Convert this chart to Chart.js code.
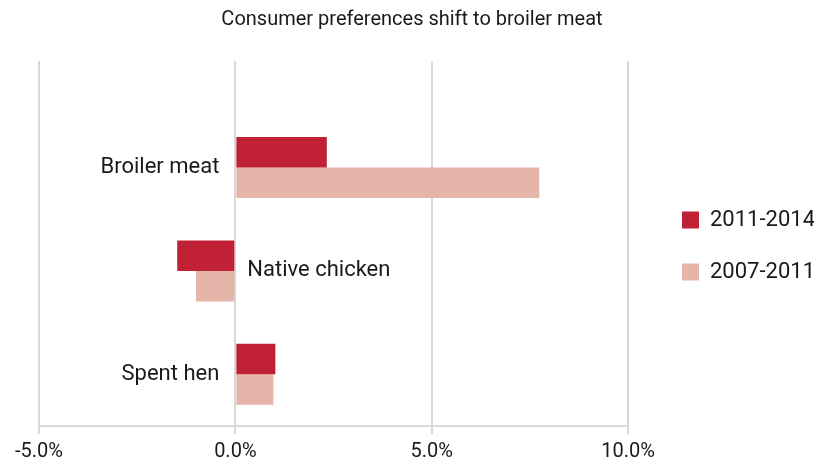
<!DOCTYPE html>
<html>
<head>
<meta charset="utf-8">
<script src="https://cdn.jsdelivr.net/npm/chart.js@4"></script>
<style>
  html, body { margin: 0; padding: 0; background: #fff; }
  #wrap { width: 818px; height: 459px; }
</style>
</head>
<body>
<div id="wrap"><canvas id="chartPreferencias"></canvas></div>
<script>
// Datos
const categorias = ['Broiler meat', 'Native chicken', 'Spent hen'];
const serie2011 = [2.33, -1.48, 1.02];
const serie2007 = [7.74, -1.0, 0.97];
const etiquetasSeries = ['2011-2014', '2007-2011'];
const ticksX = [-5, 0, 5, 10];

const colorTexto = '#1a1a1a';
const colorGrid = '#d9d9d9';
const fuente = 'Roboto';

// Etiquetas de categoría junto al eje cero, del lado opuesto a la barra
const etiquetasCategoria = {
    id: 'etiquetasCategoria',
    afterDatasetsDraw(chart) {
        const { ctx, scales } = chart;
        const x0 = scales.x.getPixelForValue(0);
        ctx.save();
        ctx.font = `22px ${fuente}`;
        ctx.fillStyle = colorTexto;
        ctx.textBaseline = 'middle';
        categorias.forEach((cat, i) => {
            const y = scales.y.getPixelForValue(i + 1);
            if (serie2011[i] >= 0) {
                ctx.textAlign = 'right';
                ctx.fillText(cat, x0 - 16, y);
            } else {
                ctx.textAlign = 'left';
                ctx.fillText(cat, x0 + 12, y);
            }
        });
        ctx.restore();
    }
};

const ctx = document.getElementById('chartPreferencias').getContext('2d');
new Chart(ctx, {
    type: 'bar',
    data: {
        datasets: [
            {
                label: etiquetasSeries[0],
                data: categorias.map((c, i) => ({ y: i + 1, x: serie2011[i] })),
                backgroundColor: '#c02135',
                borderWidth: 0
            },
            {
                label: etiquetasSeries[1],
                data: categorias.map((c, i) => ({ y: i + 1, x: serie2007[i] })),
                backgroundColor: '#e5b5aa',
                borderWidth: 0
            }
        ]
    },
    options: {
        indexAxis: 'y',
        responsive: true,
        maintainAspectRatio: false,
        animation: false,
        categoryPercentage: 0.59,
        barPercentage: 1,
        layout: { padding: { left: 10, right: 4, top: 0, bottom: -11 } },
        plugins: {
            title: {
                display: true,
                text: 'Consumer preferences shift to broiler meat',
                color: colorTexto,
                font: { family: fuente, size: 20, weight: 'normal' },
                padding: { top: 8, bottom: 29 }
            },
            legend: {
                position: 'right',
                align: 'center',
                maxWidth: 162,
                title: { display: true, text: ' ', font: { size: 10 }, padding: 5 },
                labels: {
                    color: colorTexto,
                    font: { family: fuente, size: 22 },
                    boxWidth: 17,
                    boxHeight: 17,
                    padding: 30
                }
            },
            tooltip: { enabled: false }
        },
        scales: {
            x: {
                type: 'linear',
                min: -5,
                max: 10,
                afterBuildTicks: (s) => { s.ticks = ticksX.map(v => ({ value: v })); },
                ticks: {
                    color: colorTexto,
                    font: { family: fuente, size: 20 },
                    padding: 6,
                    maxRotation: 0,
                    callback: (v) => v.toFixed(1) + '%'
                },
                grid: { color: colorGrid, lineWidth: 2, tickLength: 8, drawTicks: true },
                border: { display: true, color: colorGrid, width: 2 }
            },
            y: {
                type: 'linear',
                position: 'right',
                reverse: true,
                offset: false,
                min: -0.03,
                max: 3.5,
                afterBuildTicks: (s) => { s.ticks = categorias.map((c, i) => ({ value: i + 1 })); },
                ticks: { display: false },
                grid: { display: false },
                border: { display: false },
                afterFit: (s) => { s.width = 24; }
            },
            yIzq: {
                type: 'linear',
                position: 'left',
                ticks: { display: false },
                grid: { display: false },
                border: { display: false },
                afterFit: (s) => { s.width = 29; }
            }
        }
    },
    plugins: [etiquetasCategoria]
});
</script>
</body>
</html>
